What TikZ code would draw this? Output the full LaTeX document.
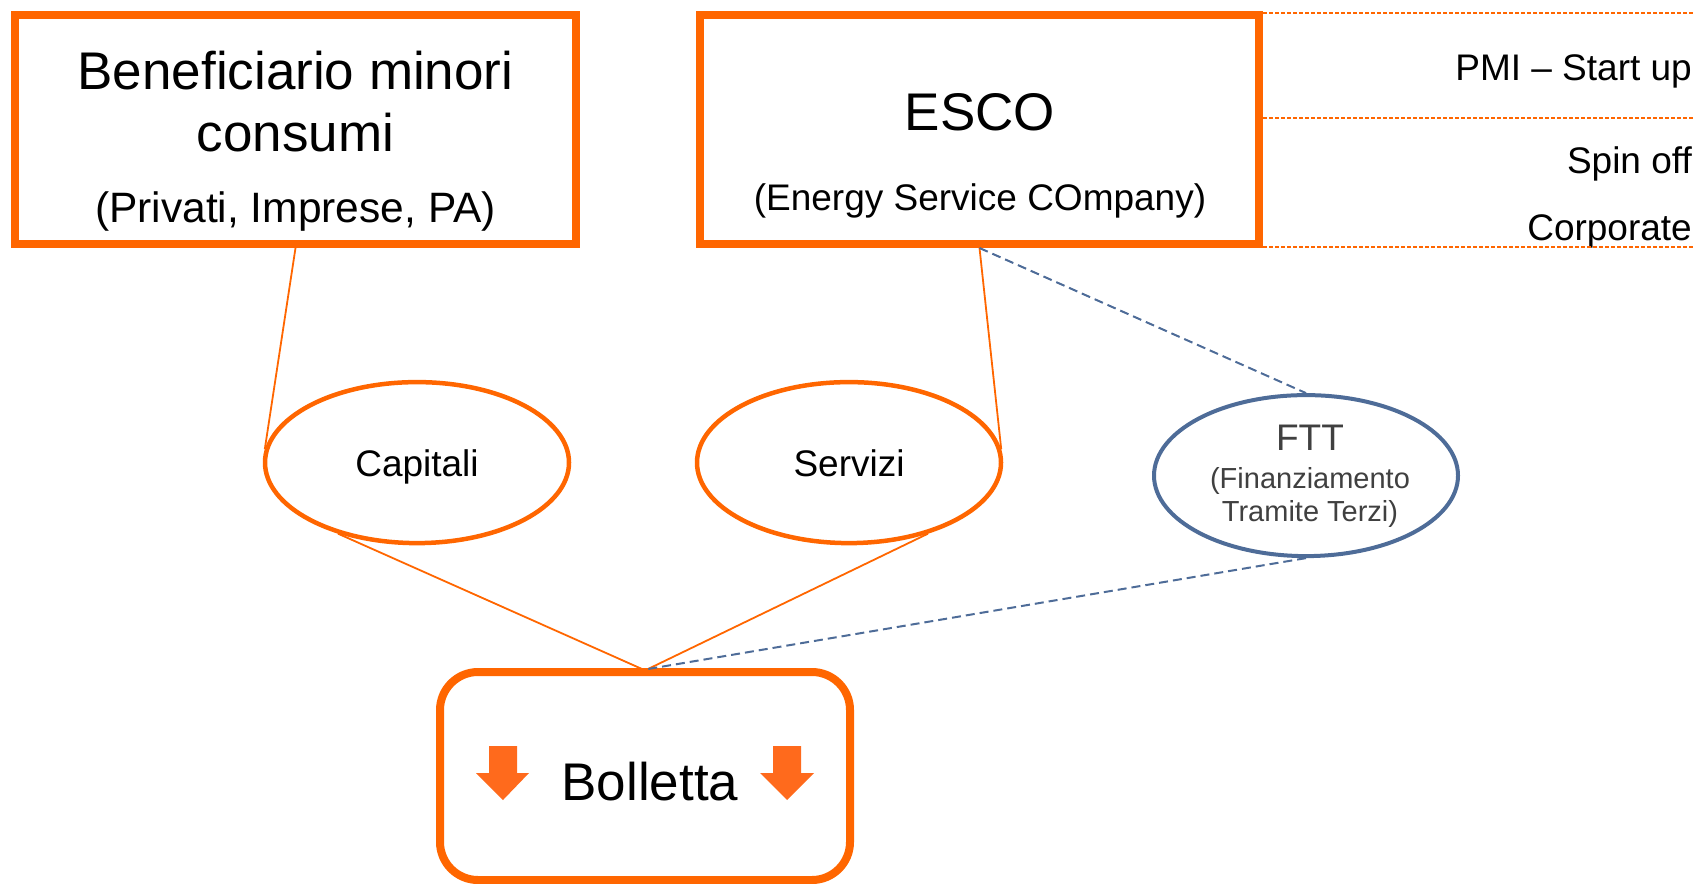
\documentclass[tikz,border=0pt]{standalone}
\usepackage{fontspec}
\setmainfont{Liberation Sans}
\usetikzlibrary{shapes.geometric}
\definecolor{org}{HTML}{FF6600}
\definecolor{arrc}{HTML}{FF6A1C}
\definecolor{bluegr}{HTML}{4E6C98}
\definecolor{txtgray}{HTML}{404040}
\begin{document}
\begin{tikzpicture}[x=1pt,y=-1pt,
  box/.style={draw=org, line width=8pt, inner sep=0pt},
  oval/.style={ellipse, draw=org, line width=4.5pt, inner sep=0pt, minimum width=304pt, minimum height=161pt},
  link/.style={draw=org, line width=1.8pt},
  blink/.style={draw=bluegr, line width=2pt, dash pattern=on 9pt off 5pt},
  olink/.style={draw=org, line width=1.6pt, dash pattern=on 4pt off 2pt},
  txt/.style={inner sep=0pt, anchor=base, text=black},
  bigf/.style={font=\fontsize{53}{60}\selectfont},
  midf/.style={font=\fontsize{37}{44}\selectfont},
  lgf/.style={font=\fontsize{42.5}{48}\selectfont},
  smf/.style={font=\fontsize{29}{34}\selectfont},
  downarrow/.style={fill=arrc, draw=none}
]
\useasboundingbox (0,0) rectangle (1693,883);

% boxes
\node[box, minimum width=561pt, minimum height=229pt] (b1) at (295.5,129.5) {};
\node[box, minimum width=559pt, minimum height=229pt] (esco) at (979.5,129.5) {};
\node[box, rounded corners=38pt, minimum width=410pt, minimum height=208pt] (bol) at (645,776) {};

% ellipses
\node[oval] (cap) at (417,462.6) {};
\node[oval] (serv) at (849,462.6) {};
\node[oval, draw=bluegr, line width=4pt] (ftt) at (1306,475.6) {};

% texts
\node[txt, bigf] (t1) at (295.5,89) {Beneficiario minori};
\node[txt, bigf] (t2) at (295.5,151) {consumi};
\node[txt, lgf] (t3) at (295.5,222) {(Privati, Imprese, PA)};
\node[txt, bigf] (t4) at (980,130) {ESCO};
\node[txt, midf] (t5) at (980,210) {(Energy Service COmpany)};
\node[txt, bigf] (t6) at (650,800) {Bolletta};
\node[txt, midf] (t7) at (417,476) {Capitali};
\node[txt, midf] (t8) at (849,476) {Servizi};
\node[txt, midf, text=txtgray] (t9) at (1310,450) {FTT};
\node[txt, smf, text=txtgray] (t10) at (1310,488) {(Finanziamento};
\node[txt, smf, text=txtgray] (t11) at (1310,521) {Tramite Terzi)};
\node[txt, midf, anchor=base east] (t12) at (1692,80) {PMI -- Start up};
\node[txt, midf, anchor=base east] (t13) at (1692,173) {Spin off};
\node[txt, midf, anchor=base east] (t14) at (1692,240) {Corporate};

% dashed orange lines on the right
\coordinate (r1) at (1693,13);
\coordinate (r2) at (1693,118);
\coordinate (r3) at (1693,247);
\coordinate (e1) at (1263,13);
\coordinate (e2) at (1263,118);
\coordinate (e3) at (1263,247);
\draw[olink] (e1) -- (r1);
\draw[olink] (e2) -- (r2);
\draw[olink] (e3) -- (r3);

% connectors
\coordinate (bt1) at (642,669);
\coordinate (bt2) at (648,669);
\draw[link] (b1.south) -- (cap.175);
\draw[link] (esco.south) -- (serv.5);
\draw[link] (cap.222) -- (bt1);
\draw[link] (serv.318) -- (bt2);
\draw[blink] (esco.south) -- (ftt.north);
\draw[blink] (ftt.south) -- (bt2);

% arrows inside Bolletta
\fill[downarrow] (489,746) -- (517,746) -- (517,773) -- (529,773) -- (503,800) -- (476,773) -- (489,773) -- cycle;
\fill[downarrow] (773,746) -- (801,746) -- (801,773) -- (814,773) -- (787,800) -- (760,773) -- (773,773) -- cycle;
\end{tikzpicture}
\end{document}
